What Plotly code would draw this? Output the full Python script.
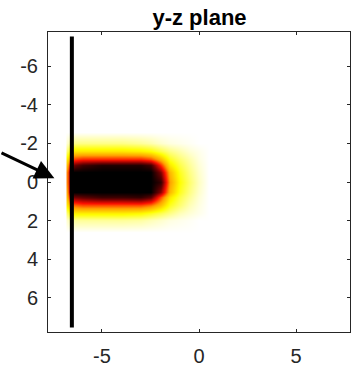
import plotly.graph_objects as go

# ---- data ----
x_grid = [-6.75, -6.6, -6.0, -5.0, -4.0, -3.0, -2.5, -2.0, -1.5, -1.0, -0.5, 0.0, 0.5]
y_grid = [-2.6, -2.0, -1.6, -1.2, -0.9, -0.5, 0.0, 0.5, 0.8, 1.2, 1.6, 2.0, 2.6]
density = [
    [0.00, 0.00, 0.00, 0.00, 0.00, 0.00, 0.00, 0.00, 0.00, 0.00, 0.00, 0.00, 0.00],
    [0.05, 0.12, 0.12, 0.12, 0.12, 0.10, 0.08, 0.05, 0.03, 0.02, 0.01, 0.00, 0.00],
    [0.15, 0.30, 0.30, 0.30, 0.30, 0.28, 0.25, 0.18, 0.12, 0.08, 0.04, 0.02, 0.00],
    [0.30, 0.55, 0.60, 0.60, 0.60, 0.60, 0.55, 0.40, 0.22, 0.14, 0.08, 0.03, 0.00],
    [0.40, 0.80, 0.90, 0.95, 0.95, 0.95, 0.90, 0.60, 0.30, 0.18, 0.10, 0.04, 0.00],
    [0.50, 1.00, 1.00, 1.00, 1.00, 1.00, 1.00, 0.80, 0.40, 0.22, 0.12, 0.05, 0.00],
    [0.50, 1.00, 1.00, 1.00, 1.00, 1.00, 1.00, 0.92, 0.45, 0.25, 0.14, 0.06, 0.00],
    [0.45, 1.00, 1.00, 1.00, 1.00, 1.00, 1.00, 0.78, 0.40, 0.22, 0.12, 0.05, 0.00],
    [0.40, 0.80, 0.85, 0.90, 0.90, 0.92, 0.85, 0.55, 0.30, 0.18, 0.10, 0.04, 0.00],
    [0.30, 0.50, 0.55, 0.55, 0.55, 0.55, 0.50, 0.38, 0.22, 0.14, 0.07, 0.03, 0.00],
    [0.15, 0.28, 0.28, 0.28, 0.28, 0.26, 0.22, 0.17, 0.12, 0.07, 0.04, 0.02, 0.00],
    [0.05, 0.10, 0.10, 0.10, 0.10, 0.09, 0.07, 0.05, 0.03, 0.02, 0.01, 0.00, 0.00],
    [0.00, 0.00, 0.00, 0.00, 0.00, 0.00, 0.00, 0.00, 0.00, 0.00, 0.00, 0.00, 0.00],
]
wall_x = [-6.55, -6.55]
wall_y = [-7.55, 7.55]
arrow_tip = (-7.45, -0.2)

x_tickvals = [-5, 0, 5]
x_ticktext = ["-5", "0", "5"]
y_tickvals = [-6, -4, -2, 0, 2, 4, 6]
y_ticktext = ["-6", "-4", "-2", "0", "2", "4", "6"]

hot_r = [[0.0, "#ffffff"], [0.25, "#ffff00"], [0.45, "#ffa000"],
         [0.625, "#ff1000"], [0.82, "#700000"], [1.0, "#000000"]]

FONT = "Liberation Sans, Arial, Helvetica, sans-serif"

fig = go.Figure()
fig.add_trace(go.Heatmap(x=x_grid, y=y_grid, z=density, colorscale=hot_r,
                         zmin=0, zmax=1, zsmooth="best", showscale=False))
fig.add_trace(go.Scatter(x=wall_x, y=wall_y, mode="lines",
                         line=dict(color="black", width=4), showlegend=False))

fig.add_annotation(x=arrow_tip[0], y=arrow_tip[1], xref="x", yref="y",
                   ax=-60, ay=-26, showarrow=True, arrowhead=2, arrowsize=1.3,
                   arrowwidth=3, arrowcolor="black", text="")

axis_common = dict(showline=True, linecolor="#262626", linewidth=1, mirror="ticks",
                   ticks="inside", ticklen=3, tickcolor="#262626", showgrid=False,
                   zeroline=False, tickfont=dict(family=FONT, size=20, color="#262626"))
fig.update_xaxes(range=[-7.78, 7.78], tickvals=x_tickvals, ticktext=x_ticktext,
                 ticklabelstandoff=6, **axis_common)
fig.update_yaxes(range=[7.78, -7.78], tickvals=y_tickvals, ticktext=y_ticktext,
                 ticklabelstandoff=5, **axis_common)

fig.update_layout(
    width=360, height=376,
    margin=dict(l=48, r=9, t=32, b=41),
    paper_bgcolor="white", plot_bgcolor="white",
    title=dict(text="<b>y-z plane</b>", x=(48 + 351) / 2 / 360, xanchor="center",
               y=1 - 17 / 376, yanchor="middle",
               font=dict(family=FONT, size=22, color="black")),
    showlegend=False,
)
fig.write_html("out.html")
